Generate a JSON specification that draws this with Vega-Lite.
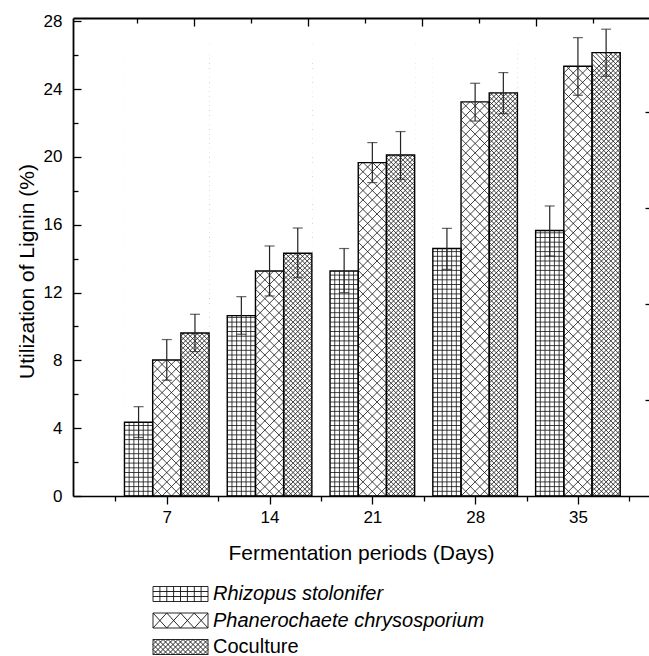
{
"$schema": "https://vega.github.io/schema/vega-lite/v6.json",
"width": 576, "height": 478,
"autosize": {"type": "none"},
"padding": {"left": 73, "top": 18, "right": 0, "bottom": 160},
"config": {"view": {"stroke": null}, "font": "Liberation Sans",
 "axis": {"grid": false, "domainColor": "#000", "tickColor": "#000", "labelColor": "#000", "titleColor": "#000", "tickWidth": 1.3, "domainWidth": 1.6, "labelFontSize": 17, "titleFontSize": 21, "titleFontWeight": "normal", "labelFont": "Liberation Sans", "titleFont": "Liberation Sans"}},
"data": {"values": [
 {"day": 7, "series": "Rhizopus stolonifer", "value": 4.35, "lo": 3.45, "hi": 5.27},
 {"day": 7, "series": "Phanerochaete chrysosporium", "value": 8.02, "lo": 6.83, "hi": 9.23},
 {"day": 7, "series": "Coculture", "value": 9.62, "lo": 8.52, "hi": 10.72},
 {"day": 14, "series": "Rhizopus stolonifer", "value": 10.64, "lo": 9.54, "hi": 11.76},
 {"day": 14, "series": "Phanerochaete chrysosporium", "value": 13.27, "lo": 11.8, "hi": 14.75},
 {"day": 14, "series": "Coculture", "value": 14.32, "lo": 12.88, "hi": 15.81},
 {"day": 21, "series": "Rhizopus stolonifer", "value": 13.27, "lo": 12.0, "hi": 14.6},
 {"day": 21, "series": "Phanerochaete chrysosporium", "value": 19.67, "lo": 18.49, "hi": 20.85},
 {"day": 21, "series": "Coculture", "value": 20.12, "lo": 18.68, "hi": 21.5},
 {"day": 28, "series": "Rhizopus stolonifer", "value": 14.6, "lo": 13.37, "hi": 15.79},
 {"day": 28, "series": "Phanerochaete chrysosporium", "value": 23.25, "lo": 22.12, "hi": 24.35},
 {"day": 28, "series": "Coculture", "value": 23.78, "lo": 22.56, "hi": 24.98},
 {"day": 35, "series": "Rhizopus stolonifer", "value": 15.66, "lo": 14.16, "hi": 17.11},
 {"day": 35, "series": "Phanerochaete chrysosporium", "value": 25.35, "lo": 23.64, "hi": 27.04},
 {"day": 35, "series": "Coculture", "value": 26.16, "lo": 24.76, "hi": 27.54}
]},
"layer": [
 {
  "mark": {"type": "point", "filled": false, "size": 4, "opacity": 1, "strokeWidth": 0.8, "color": "#111"},
  "encoding": {
   "x": {"field": "day", "type": "quantitative", "scale": {"domain": [0.955, 39.5], "nice": false, "zero": false},
    "axis": {"orient": "bottom", "grid": false, "zindex": 1, "values": [7, 14, 21, 28, 35], "tickSize": 8, "labelPadding": 5, "labelFlush": false, "labelOverlap": false, "title": "Fermentation periods (Days)", "titleBaseline": "alphabetic", "titleY": 63, "domainColor": "#000", "tickColor": "#000"}},
   "y": {"datum": 0, "type": "quantitative", "scale": {"domain": [0, 28.2], "nice": false, "zero": false},
    "axis": {"orient": "left", "grid": false, "zindex": 1, "values": [0, 4, 8, 12, 16, 20, 24, 28], "tickSize": -8, "labelPadding": 19, "labelOverlap": false, "labelFlush": false, "title": "Utilization of Lignin (%)", "titleBaseline": "alphabetic", "titleX": -40, "titleY": 253, "domainWidth": 1.8, "domainColor": "#000", "tickColor": "#000"}},
   "shape": {"field": "series", "type": "nominal", "legend": null, "scale": {"domain": ["Rhizopus stolonifer", "Phanerochaete chrysosporium", "Coculture"], "range": [
    "M-37.6 0L-37.6 -452M-32.9 0L-32.9 -452M-28.2 0L-28.2 -452M-23.5 0L-23.5 -452M-18.8 0L-18.8 -452M-42.3 -4.7l28.2 0m-28.2 -4.7l28.2 0m-28.2 -4.7l28.2 0m-28.2 -4.7l28.2 0m-28.2 -4.7l28.2 0m-28.2 -4.7l28.2 0m-28.2 -4.7l28.2 0m-28.2 -4.7l28.2 0m-28.2 -4.7l28.2 0m-28.2 -4.7l28.2 0m-28.2 -4.7l28.2 0m-28.2 -4.7l28.2 0m-28.2 -4.7l28.2 0m-28.2 -4.7l28.2 0m-28.2 -4.7l28.2 0m-28.2 -4.7l28.2 0m-28.2 -4.7l28.2 0m-28.2 -4.7l28.2 0m-28.2 -4.7l28.2 0m-28.2 -4.7l28.2 0m-28.2 -4.7l28.2 0m-28.2 -4.7l28.2 0m-28.2 -4.7l28.2 0m-28.2 -4.7l28.2 0m-28.2 -4.7l28.2 0m-28.2 -4.7l28.2 0m-28.2 -4.7l28.2 0m-28.2 -4.7l28.2 0m-28.2 -4.7l28.2 0m-28.2 -4.7l28.2 0m-28.2 -4.7l28.2 0m-28.2 -4.7l28.2 0m-28.2 -4.7l28.2 0m-28.2 -4.7l28.2 0m-28.2 -4.7l28.2 0m-28.2 -4.7l28.2 0m-28.2 -4.7l28.2 0m-28.2 -4.7l28.2 0m-28.2 -4.7l28.2 0m-28.2 -4.7l28.2 0m-28.2 -4.7l28.2 0m-28.2 -4.7l28.2 0m-28.2 -4.7l28.2 0m-28.2 -4.7l28.2 0m-28.2 -4.7l28.2 0m-28.2 -4.7l28.2 0m-28.2 -4.7l28.2 0m-28.2 -4.7l28.2 0m-28.2 -4.7l28.2 0m-28.2 -4.7l28.2 0m-28.2 -4.7l28.2 0m-28.2 -4.7l28.2 0m-28.2 -4.7l28.2 0m-28.2 -4.7l28.2 0m-28.2 -4.7l28.2 0m-28.2 -4.7l28.2 0m-28.2 -4.7l28.2 0m-28.2 -4.7l28.2 0m-28.2 -4.7l28.2 0m-28.2 -4.7l28.2 0m-28.2 -4.7l28.2 0m-28.2 -4.7l28.2 0m-28.2 -4.7l28.2 0m-28.2 -4.7l28.2 0m-28.2 -4.7l28.2 0m-28.2 -4.7l28.2 0m-28.2 -4.7l28.2 0m-28.2 -4.7l28.2 0m-28.2 -4.7l28.2 0m-28.2 -4.7l28.2 0m-28.2 -4.7l28.2 0m-28.2 -4.7l28.2 0m-28.2 -4.7l28.2 0m-28.2 -4.7l28.2 0m-28.2 -4.7l28.2 0m-28.2 -4.7l28.2 0m-28.2 -4.7l28.2 0m-28.2 -4.7l28.2 0m-28.2 -4.7l28.2 0m-28.2 -4.7l28.2 0m-28.2 -4.7l28.2 0m-28.2 -4.7l28.2 0m-28.2 -4.7l28.2 0m-28.2 -4.7l28.2 0m-28.2 -4.7l28.2 0m-28.2 -4.7l28.2 0m-28.2 -4.7l28.2 0m-28.2 -4.7l28.2 0m-28.2 -4.7l28.2 0m-28.2 -4.7l28.2 0m-28.2 -4.7l28.2 0m-28.2 -4.7l28.2 0m-28.2 -4.7l28.2 0",
    "M-14.1 0l28.2 -28.2m-28.2 18.8l28.2 -28.2m-28.2 18.8l28.2 -28.2m-28.2 18.8l28.2 -28.2m-28.2 18.8l28.2 -28.2m-28.2 18.8l28.2 -28.2m-28.2 18.8l28.2 -28.2m-28.2 18.8l28.2 -28.2m-28.2 18.8l28.2 -28.2m-28.2 18.8l28.2 -28.2m-28.2 18.8l28.2 -28.2m-28.2 18.8l28.2 -28.2m-28.2 18.8l28.2 -28.2m-28.2 18.8l28.2 -28.2m-28.2 18.8l28.2 -28.2m-28.2 18.8l28.2 -28.2m-28.2 18.8l28.2 -28.2m-28.2 18.8l28.2 -28.2m-28.2 18.8l28.2 -28.2m-28.2 18.8l28.2 -28.2m-28.2 18.8l28.2 -28.2m-28.2 18.8l28.2 -28.2m-28.2 18.8l28.2 -28.2m-28.2 18.8l28.2 -28.2m-28.2 18.8l28.2 -28.2m-28.2 18.8l28.2 -28.2m-28.2 18.8l28.2 -28.2m-28.2 18.8l28.2 -28.2m-28.2 18.8l28.2 -28.2m-28.2 18.8l28.2 -28.2m-28.2 18.8l28.2 -28.2m-28.2 18.8l28.2 -28.2m-28.2 18.8l28.2 -28.2m-28.2 18.8l28.2 -28.2m-28.2 18.8l28.2 -28.2m-28.2 18.8l28.2 -28.2m-28.2 18.8l28.2 -28.2m-28.2 18.8l28.2 -28.2m-28.2 18.8l28.2 -28.2m-28.2 18.8l28.2 -28.2m-28.2 18.8l28.2 -28.2m-28.2 18.8l28.2 -28.2m-28.2 18.8l28.2 -28.2m-28.2 18.8l28.2 -28.2m-28.2 18.8l28.2 -28.2m-28.2 18.8l28.2 -28.2M-4.7 0L14.1 -18.8M4.7 0L14.1 -9.4M14.1 0l-28.2 -28.2m28.2 18.8l-28.2 -28.2m28.2 18.8l-28.2 -28.2m28.2 18.8l-28.2 -28.2m28.2 18.8l-28.2 -28.2m28.2 18.8l-28.2 -28.2m28.2 18.8l-28.2 -28.2m28.2 18.8l-28.2 -28.2m28.2 18.8l-28.2 -28.2m28.2 18.8l-28.2 -28.2m28.2 18.8l-28.2 -28.2m28.2 18.8l-28.2 -28.2m28.2 18.8l-28.2 -28.2m28.2 18.8l-28.2 -28.2m28.2 18.8l-28.2 -28.2m28.2 18.8l-28.2 -28.2m28.2 18.8l-28.2 -28.2m28.2 18.8l-28.2 -28.2m28.2 18.8l-28.2 -28.2m28.2 18.8l-28.2 -28.2m28.2 18.8l-28.2 -28.2m28.2 18.8l-28.2 -28.2m28.2 18.8l-28.2 -28.2m28.2 18.8l-28.2 -28.2m28.2 18.8l-28.2 -28.2m28.2 18.8l-28.2 -28.2m28.2 18.8l-28.2 -28.2m28.2 18.8l-28.2 -28.2m28.2 18.8l-28.2 -28.2m28.2 18.8l-28.2 -28.2m28.2 18.8l-28.2 -28.2m28.2 18.8l-28.2 -28.2m28.2 18.8l-28.2 -28.2m28.2 18.8l-28.2 -28.2m28.2 18.8l-28.2 -28.2m28.2 18.8l-28.2 -28.2m28.2 18.8l-28.2 -28.2m28.2 18.8l-28.2 -28.2m28.2 18.8l-28.2 -28.2m28.2 18.8l-28.2 -28.2m28.2 18.8l-28.2 -28.2m28.2 18.8l-28.2 -28.2m28.2 18.8l-28.2 -28.2m28.2 18.8l-28.2 -28.2m28.2 18.8l-28.2 -28.2m28.2 18.8l-28.2 -28.2M4.7 0L-14.1 -18.8M-4.7 0L-14.1 -9.4",
    "M14.1 0l28.2 -28.2m-28.2 23.5l28.2 -28.2m-28.2 23.5l28.2 -28.2m-28.2 23.5l28.2 -28.2m-28.2 23.5l28.2 -28.2m-28.2 23.5l28.2 -28.2m-28.2 23.5l28.2 -28.2m-28.2 23.5l28.2 -28.2m-28.2 23.5l28.2 -28.2m-28.2 23.5l28.2 -28.2m-28.2 23.5l28.2 -28.2m-28.2 23.5l28.2 -28.2m-28.2 23.5l28.2 -28.2m-28.2 23.5l28.2 -28.2m-28.2 23.5l28.2 -28.2m-28.2 23.5l28.2 -28.2m-28.2 23.5l28.2 -28.2m-28.2 23.5l28.2 -28.2m-28.2 23.5l28.2 -28.2m-28.2 23.5l28.2 -28.2m-28.2 23.5l28.2 -28.2m-28.2 23.5l28.2 -28.2m-28.2 23.5l28.2 -28.2m-28.2 23.5l28.2 -28.2m-28.2 23.5l28.2 -28.2m-28.2 23.5l28.2 -28.2m-28.2 23.5l28.2 -28.2m-28.2 23.5l28.2 -28.2m-28.2 23.5l28.2 -28.2m-28.2 23.5l28.2 -28.2m-28.2 23.5l28.2 -28.2m-28.2 23.5l28.2 -28.2m-28.2 23.5l28.2 -28.2m-28.2 23.5l28.2 -28.2m-28.2 23.5l28.2 -28.2m-28.2 23.5l28.2 -28.2m-28.2 23.5l28.2 -28.2m-28.2 23.5l28.2 -28.2m-28.2 23.5l28.2 -28.2m-28.2 23.5l28.2 -28.2m-28.2 23.5l28.2 -28.2m-28.2 23.5l28.2 -28.2m-28.2 23.5l28.2 -28.2m-28.2 23.5l28.2 -28.2m-28.2 23.5l28.2 -28.2m-28.2 23.5l28.2 -28.2m-28.2 23.5l28.2 -28.2m-28.2 23.5l28.2 -28.2m-28.2 23.5l28.2 -28.2m-28.2 23.5l28.2 -28.2m-28.2 23.5l28.2 -28.2m-28.2 23.5l28.2 -28.2m-28.2 23.5l28.2 -28.2m-28.2 23.5l28.2 -28.2m-28.2 23.5l28.2 -28.2m-28.2 23.5l28.2 -28.2m-28.2 23.5l28.2 -28.2m-28.2 23.5l28.2 -28.2m-28.2 23.5l28.2 -28.2m-28.2 23.5l28.2 -28.2m-28.2 23.5l28.2 -28.2m-28.2 23.5l28.2 -28.2m-28.2 23.5l28.2 -28.2m-28.2 23.5l28.2 -28.2m-28.2 23.5l28.2 -28.2m-28.2 23.5l28.2 -28.2m-28.2 23.5l28.2 -28.2m-28.2 23.5l28.2 -28.2m-28.2 23.5l28.2 -28.2m-28.2 23.5l28.2 -28.2m-28.2 23.5l28.2 -28.2m-28.2 23.5l28.2 -28.2m-28.2 23.5l28.2 -28.2m-28.2 23.5l28.2 -28.2m-28.2 23.5l28.2 -28.2m-28.2 23.5l28.2 -28.2m-28.2 23.5l28.2 -28.2m-28.2 23.5l28.2 -28.2m-28.2 23.5l28.2 -28.2m-28.2 23.5l28.2 -28.2m-28.2 23.5l28.2 -28.2m-28.2 23.5l28.2 -28.2m-28.2 23.5l28.2 -28.2m-28.2 23.5l28.2 -28.2m-28.2 23.5l28.2 -28.2m-28.2 23.5l28.2 -28.2m-28.2 23.5l28.2 -28.2m-28.2 23.5l28.2 -28.2m-28.2 23.5l28.2 -28.2m-28.2 23.5l28.2 -28.2m-28.2 23.5l28.2 -28.2M18.8 0L42.3 -23.5M23.5 0L42.3 -18.8M28.2 0L42.3 -14.1M32.9 0L42.3 -9.4M37.6 0L42.3 -4.7M42.3 0l-28.2 -28.2m28.2 23.5l-28.2 -28.2m28.2 23.5l-28.2 -28.2m28.2 23.5l-28.2 -28.2m28.2 23.5l-28.2 -28.2m28.2 23.5l-28.2 -28.2m28.2 23.5l-28.2 -28.2m28.2 23.5l-28.2 -28.2m28.2 23.5l-28.2 -28.2m28.2 23.5l-28.2 -28.2m28.2 23.5l-28.2 -28.2m28.2 23.5l-28.2 -28.2m28.2 23.5l-28.2 -28.2m28.2 23.5l-28.2 -28.2m28.2 23.5l-28.2 -28.2m28.2 23.5l-28.2 -28.2m28.2 23.5l-28.2 -28.2m28.2 23.5l-28.2 -28.2m28.2 23.5l-28.2 -28.2m28.2 23.5l-28.2 -28.2m28.2 23.5l-28.2 -28.2m28.2 23.5l-28.2 -28.2m28.2 23.5l-28.2 -28.2m28.2 23.5l-28.2 -28.2m28.2 23.5l-28.2 -28.2m28.2 23.5l-28.2 -28.2m28.2 23.5l-28.2 -28.2m28.2 23.5l-28.2 -28.2m28.2 23.5l-28.2 -28.2m28.2 23.5l-28.2 -28.2m28.2 23.5l-28.2 -28.2m28.2 23.5l-28.2 -28.2m28.2 23.5l-28.2 -28.2m28.2 23.5l-28.2 -28.2m28.2 23.5l-28.2 -28.2m28.2 23.5l-28.2 -28.2m28.2 23.5l-28.2 -28.2m28.2 23.5l-28.2 -28.2m28.2 23.5l-28.2 -28.2m28.2 23.5l-28.2 -28.2m28.2 23.5l-28.2 -28.2m28.2 23.5l-28.2 -28.2m28.2 23.5l-28.2 -28.2m28.2 23.5l-28.2 -28.2m28.2 23.5l-28.2 -28.2m28.2 23.5l-28.2 -28.2m28.2 23.5l-28.2 -28.2m28.2 23.5l-28.2 -28.2m28.2 23.5l-28.2 -28.2m28.2 23.5l-28.2 -28.2m28.2 23.5l-28.2 -28.2m28.2 23.5l-28.2 -28.2m28.2 23.5l-28.2 -28.2m28.2 23.5l-28.2 -28.2m28.2 23.5l-28.2 -28.2m28.2 23.5l-28.2 -28.2m28.2 23.5l-28.2 -28.2m28.2 23.5l-28.2 -28.2m28.2 23.5l-28.2 -28.2m28.2 23.5l-28.2 -28.2m28.2 23.5l-28.2 -28.2m28.2 23.5l-28.2 -28.2m28.2 23.5l-28.2 -28.2m28.2 23.5l-28.2 -28.2m28.2 23.5l-28.2 -28.2m28.2 23.5l-28.2 -28.2m28.2 23.5l-28.2 -28.2m28.2 23.5l-28.2 -28.2m28.2 23.5l-28.2 -28.2m28.2 23.5l-28.2 -28.2m28.2 23.5l-28.2 -28.2m28.2 23.5l-28.2 -28.2m28.2 23.5l-28.2 -28.2m28.2 23.5l-28.2 -28.2m28.2 23.5l-28.2 -28.2m28.2 23.5l-28.2 -28.2m28.2 23.5l-28.2 -28.2m28.2 23.5l-28.2 -28.2m28.2 23.5l-28.2 -28.2m28.2 23.5l-28.2 -28.2m28.2 23.5l-28.2 -28.2m28.2 23.5l-28.2 -28.2m28.2 23.5l-28.2 -28.2m28.2 23.5l-28.2 -28.2m28.2 23.5l-28.2 -28.2m28.2 23.5l-28.2 -28.2m28.2 23.5l-28.2 -28.2m28.2 23.5l-28.2 -28.2m28.2 23.5l-28.2 -28.2m28.2 23.5l-28.2 -28.2m28.2 23.5l-28.2 -28.2m28.2 23.5l-28.2 -28.2m28.2 23.5l-28.2 -28.2m28.2 23.5l-28.2 -28.2m28.2 23.5l-28.2 -28.2M37.6 0L14.1 -23.5M32.9 0L14.1 -18.8M28.2 0L14.1 -14.1M23.5 0L14.1 -9.4M18.8 0L14.1 -4.7"
   ]}}
  }
 },
 {
  "transform": [{"filter": "datum.series === 'Rhizopus stolonifer'"}],
  "layer": [
   {"mark": {"type": "bar", "width": 29, "xOffset": -28.2, "fill": "#fff", "strokeWidth": 0},
    "encoding": {"x": {"field": "day", "type": "quantitative", "axis": null}, "y": {"field": "value", "type": "quantitative", "axis": null}, "y2": {"datum": 28.15}}},
   {"mark": {"type": "bar", "width": 28.2, "xOffset": -28.2, "fill": "transparent", "stroke": "#000", "strokeWidth": 1.4},
    "encoding": {"x": {"field": "day", "type": "quantitative", "axis": null}, "y": {"field": "value", "type": "quantitative", "axis": null}, "y2": {"datum": 0}}},
   {"mark": {"type": "rule", "xOffset": -28.2, "color": "#222", "strokeWidth": 1.2},
    "encoding": {"x": {"field": "day", "type": "quantitative", "axis": null}, "y": {"field": "lo", "type": "quantitative", "axis": null}, "y2": {"field": "hi"}}},
   {"mark": {"type": "tick", "orient": "horizontal", "size": 10, "thickness": 1.2, "xOffset": -28.2, "color": "#222"},
    "encoding": {"x": {"field": "day", "type": "quantitative", "axis": null}, "y": {"field": "hi", "type": "quantitative", "axis": null}}},
   {"mark": {"type": "tick", "orient": "horizontal", "size": 10, "thickness": 1.2, "xOffset": -28.2, "color": "#222"},
    "encoding": {"x": {"field": "day", "type": "quantitative", "axis": null}, "y": {"field": "lo", "type": "quantitative", "axis": null}}}
  ]
 },
 {
  "transform": [{"filter": "datum.series === 'Phanerochaete chrysosporium'"}],
  "layer": [
   {"mark": {"type": "bar", "width": 29, "xOffset": 0, "fill": "#fff", "strokeWidth": 0},
    "encoding": {"x": {"field": "day", "type": "quantitative", "axis": null}, "y": {"field": "value", "type": "quantitative", "axis": null}, "y2": {"datum": 28.15}}},
   {"mark": {"type": "bar", "width": 28.2, "xOffset": 0, "fill": "transparent", "stroke": "#000", "strokeWidth": 1.4},
    "encoding": {"x": {"field": "day", "type": "quantitative", "axis": null}, "y": {"field": "value", "type": "quantitative", "axis": null}, "y2": {"datum": 0}}},
   {"mark": {"type": "rule", "xOffset": 0, "color": "#222", "strokeWidth": 1.2},
    "encoding": {"x": {"field": "day", "type": "quantitative", "axis": null}, "y": {"field": "lo", "type": "quantitative", "axis": null}, "y2": {"field": "hi"}}},
   {"mark": {"type": "tick", "orient": "horizontal", "size": 10, "thickness": 1.2, "xOffset": 0, "color": "#222"},
    "encoding": {"x": {"field": "day", "type": "quantitative", "axis": null}, "y": {"field": "hi", "type": "quantitative", "axis": null}}},
   {"mark": {"type": "tick", "orient": "horizontal", "size": 10, "thickness": 1.2, "xOffset": 0, "color": "#222"},
    "encoding": {"x": {"field": "day", "type": "quantitative", "axis": null}, "y": {"field": "lo", "type": "quantitative", "axis": null}}}
  ]
 },
 {
  "transform": [{"filter": "datum.series === 'Coculture'"}],
  "layer": [
   {"mark": {"type": "bar", "width": 29, "xOffset": 28.2, "fill": "#fff", "strokeWidth": 0},
    "encoding": {"x": {"field": "day", "type": "quantitative", "axis": null}, "y": {"field": "value", "type": "quantitative", "axis": null}, "y2": {"datum": 28.15}}},
   {"mark": {"type": "bar", "width": 28.2, "xOffset": 28.2, "fill": "transparent", "stroke": "#000", "strokeWidth": 1.4},
    "encoding": {"x": {"field": "day", "type": "quantitative", "axis": null}, "y": {"field": "value", "type": "quantitative", "axis": null}, "y2": {"datum": 0}}},
   {"mark": {"type": "rule", "xOffset": 28.2, "color": "#222", "strokeWidth": 1.2},
    "encoding": {"x": {"field": "day", "type": "quantitative", "axis": null}, "y": {"field": "lo", "type": "quantitative", "axis": null}, "y2": {"field": "hi"}}},
   {"mark": {"type": "tick", "orient": "horizontal", "size": 10, "thickness": 1.2, "xOffset": 28.2, "color": "#222"},
    "encoding": {"x": {"field": "day", "type": "quantitative", "axis": null}, "y": {"field": "hi", "type": "quantitative", "axis": null}}},
   {"mark": {"type": "tick", "orient": "horizontal", "size": 10, "thickness": 1.2, "xOffset": 28.2, "color": "#222"},
    "encoding": {"x": {"field": "day", "type": "quantitative", "axis": null}, "y": {"field": "lo", "type": "quantitative", "axis": null}}}
  ]
 },
 {
  "mark": {"type": "point", "opacity": 0, "size": 1},
  "encoding": {
   "x": {"field": "day", "type": "quantitative",
    "axis": {"orient": "bottom", "grid": false, "zindex": 1, "values": [3.5, 10.5, 17.5, 24.5, 31.5, 38.5], "labels": false, "title": null, "domain": false, "tickSize": 5, "tickColor": "#000", "tickWidth": 1.3}},
   "y": {"field": "value", "type": "quantitative", "axis": null}
  }
 },
 {
  "transform": [{"filter": "datum.day < 0"}],
  "mark": {"type": "point", "filled": false, "size": 4, "opacity": 0, "color": "#111", "strokeWidth": 0.9},
  "encoding": {
   "x": {"field": "day", "type": "quantitative",
    "axis": {"orient": "top", "grid": false, "zindex": 1, "values": [8.85, 16.62, 24.39, 32.16], "labels": false, "title": null, "domain": true, "ticks": true, "tickSize": -8, "domainColor": "#000", "domainWidth": 1.8, "tickColor": "#000", "tickWidth": 1.3}},
   "y": {"field": "value", "type": "quantitative",
    "axis": {"orient": "right", "grid": false, "zindex": 1, "values": [5.66, 11.32, 16.98, 22.64], "labels": false, "title": null, "domain": false, "tickSize": -8, "offset": 4, "tickColor": "#000", "tickWidth": 1.3}},
   "shape": {"field": "series", "type": "nominal",
    "scale": {"domain": ["Rhizopus stolonifer", "Phanerochaete chrysosporium"], "range": [
     "M0 -7.5h55v15h-55zM6.9 -7.5v15M13.8 -7.5v15M20.6 -7.5v15M27.5 -7.5v15M34.4 -7.5v15M41.3 -7.5v15M48.1 -7.5v15M0 -2.5h55M0 2.5h55",
     "M0 -7.5h55v15h-55zM0 -7.5L13.75 7.5M0 7.5L13.75 -7.5M13.75 -7.5L27.5 7.5M13.75 7.5L27.5 -7.5M27.5 -7.5L41.25 7.5M27.5 7.5L41.25 -7.5M41.25 -7.5L55 7.5M41.25 7.5L55 -7.5"]},
    "legend": {"orient": "none", "legendX": 70, "legendY": 566, "title": null, "symbolSize": 4, "symbolStrokeWidth": 0.9, "symbolStrokeColor": "#111", "symbolFillColor": "transparent", "symbolOpacity": 1, "labelFont": "Liberation Sans", "labelFontSize": 20, "labelFontStyle": "italic", "labelColor": "#000", "labelOffset": 50, "rowPadding": 6.5, "padding": 0, "labelLimit": 400}}
  }
 },
 {
  "transform": [{"filter": "datum.day < 0"}],
  "mark": {"type": "point", "filled": false, "size": 4, "opacity": 0, "color": "#111", "strokeWidth": 0.9},
  "encoding": {
   "x": {"field": "day", "type": "quantitative",
    "axis": {"orient": "top", "grid": false, "zindex": 1, "values": [4.97, 12.74, 20.5, 28.27, 36.04], "labels": false, "title": null, "domain": false, "tickSize": -5, "tickColor": "#000", "tickWidth": 1.3}},
   "y": {"field": "value", "type": "quantitative",
    "axis": {"orient": "left", "grid": false, "zindex": 1, "values": [2, 6, 10, 14, 18, 22, 26], "labels": false, "title": null, "domain": false, "tickSize": -5, "tickColor": "#000", "tickWidth": 1.3}},
   "shape": {"field": "series", "type": "nominal",
    "scale": {"domain": ["Coculture"], "range": [
     "M0 -7.5h55v15h-55zM0 -2.5L5 -7.5M0 2.5L10 -7.5M0 7.5l15 -15m-10 15l15 -15m-10 15l15 -15m-10 15l15 -15m-10 15l15 -15m-10 15l15 -15m-10 15l15 -15m-10 15l15 -15m-10 15l15 -15M45 7.5L55 -2.5M50 7.5L55 2.5M0 2.5L5 7.5M0 -2.5L10 7.5M0 -7.5l15 15m-10 -15l15 15m-10 -15l15 15m-10 -15l15 15m-10 -15l15 15m-10 -15l15 15m-10 -15l15 15m-10 -15l15 15m-10 -15l15 15M45 -7.5L55 2.5M50 -7.5L55 -2.5"]},
    "legend": {"orient": "none", "legendX": 70, "legendY": 619, "title": null, "symbolSize": 4, "symbolStrokeWidth": 0.9, "symbolStrokeColor": "#111", "symbolFillColor": "transparent", "symbolOpacity": 1, "labelFont": "Liberation Sans", "labelFontSize": 20, "labelFontStyle": "normal", "labelColor": "#000", "labelOffset": 50, "padding": 0, "labelLimit": 400}}
  }
 }
],
"resolve": {"scale": {"shape": "independent"}, "legend": {"shape": "independent"}, "axis": {"x": "independent", "y": "independent"}}
}
